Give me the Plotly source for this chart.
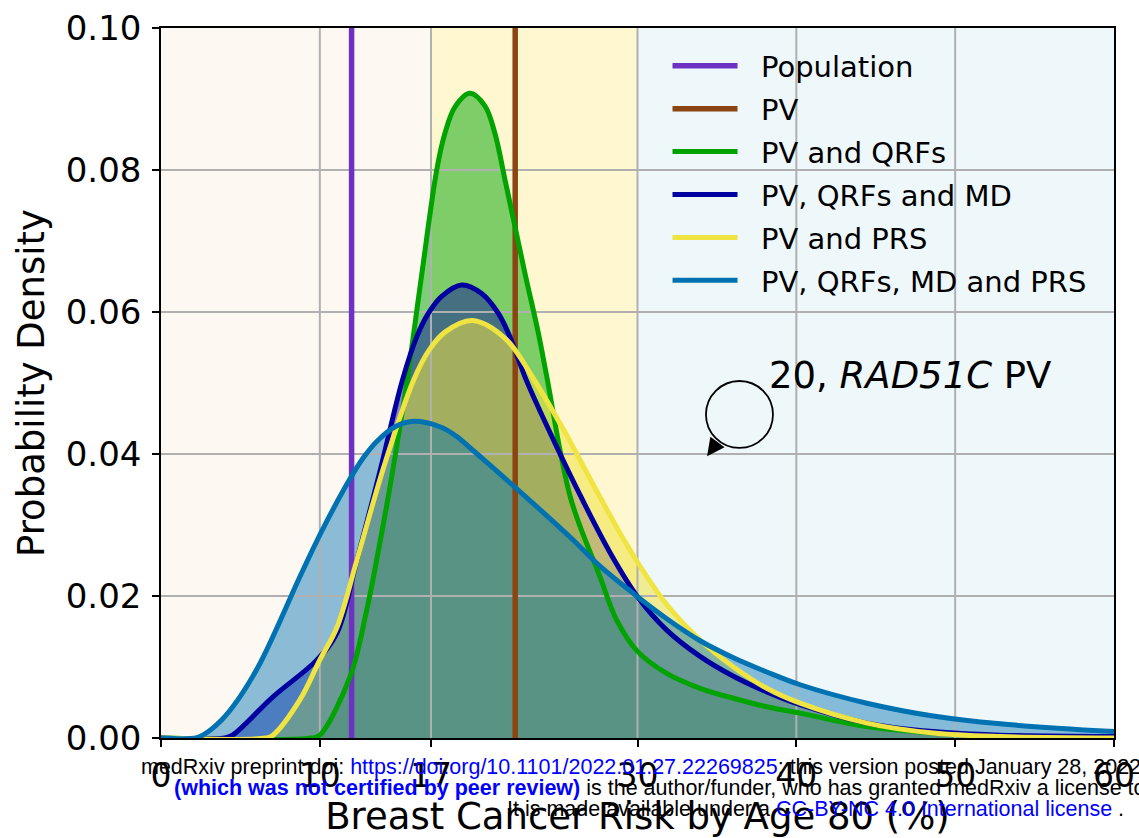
import plotly.graph_objects as go

# ---------------- data ----------------
pop_x = 12.0          # Population risk
pv_x = 22.3           # PV risk

green_x = [0, 9.5, 10.0, 11.9, 12.95, 13.58, 14.5, 15.47, 16.41, 17.36, 17.88, 18.51,
           19.45, 20.4, 21.03, 21.66, 22.29, 22.92, 23.76, 24.28, 25.8, 27.64, 28.69, 30, 31.84,
           33.94, 36.04, 38.14, 40.24, 44.44, 48.62, 52.83, 60]
green_y = [0, 0, 0.0004, 0.0086, 0.018, 0.0251, 0.0365, 0.0500, 0.0652, 0.0800, 0.0852, 0.0889,
           0.0908, 0.0890, 0.0851, 0.0786, 0.0720, 0.0654, 0.0570, 0.0510, 0.0337,
           0.0227, 0.0166, 0.0122, 0.0091, 0.0070, 0.0056, 0.0044, 0.0035, 0.0016, 0.0007, 0.0003, 0]

navy_x = [0, 4.0, 4.5, 7.05, 9.82, 11.08, 12.34, 13.8, 15.2, 16.1, 16.83, 17.67, 18.93, 20.19, 21.24,
          21.97, 23.0, 24.6, 26.5, 28.3, 30, 31.84, 33.94, 36.04, 38.14, 40.24, 44.44, 48.62,
          52.83, 60]
navy_y = [0, 0, 0.0004, 0.0058, 0.011, 0.0148, 0.0251, 0.0377, 0.0504, 0.0565, 0.0598, 0.0622,
          0.0638, 0.0626, 0.0598, 0.0565, 0.0504, 0.0425, 0.0337, 0.026, 0.0199, 0.0152, 0.0115,
          0.0087, 0.0065, 0.0047, 0.0021, 0.0009, 0.0004, 0.0002]

yellow_x = [0, 6.6, 7.05, 8.75, 10.0, 11.08, 12.34, 14.0, 15.9, 16.9, 17.9, 19.6, 21.66, 23.4, 25.5,
            27.5, 29.6, 31.84, 33.94, 36.04, 38.14, 40.24, 44.44, 48.62, 52.83, 60]
yellow_y = [0, 0, 0.0004, 0.0054, 0.011, 0.0156, 0.0251, 0.0380, 0.0504, 0.0547, 0.0572, 0.0588,
            0.0563, 0.0508, 0.0428, 0.0345, 0.0262, 0.0188, 0.0138, 0.0100, 0.0070, 0.0049,
            0.0021, 0.0007, 0.0002, 0]

blue_x = [0, 2.2, 2.64, 3.8, 4.97, 6.23, 7.5, 8.7, 10.2, 11.9, 12.75, 13.6, 14.8, 15.9, 17.6, 18.6,
          19.6, 21.8, 23.9, 25.9, 27.64, 30, 31.84, 33.94, 36.04, 38.14, 40.24, 44.44, 48.62,
          52.83, 60]
blue_y = [0, 0, 0.0004, 0.0025, 0.0058, 0.0105, 0.0165, 0.0225, 0.0295, 0.0365, 0.0395, 0.0418,
          0.0439, 0.0446, 0.0438, 0.0425, 0.0406, 0.0363, 0.0321, 0.0280, 0.0242, 0.0199, 0.0168,
          0.0137, 0.0113, 0.0093, 0.0075, 0.0049, 0.0031, 0.0020, 0.0009]

series_names = ["PV and QRFs", "PV, QRFs and MD", "PV and PRS", "PV, QRFs, MD and PRS"]
series_colors = ["#00a300", "#0000a0", "#f0e442", "#0072b2"]
series_fills = ["rgba(0,163,0,0.5)", "rgba(0,0,160,0.45)", "rgba(240,228,66,0.55)", "rgba(0,114,178,0.45)"]
series_x = [green_x, navy_x, yellow_x, blue_x]
series_y = [green_y, navy_y, yellow_y, blue_y]

x_ticks = [0, 10, 17, 30, 40, 50, 60]
y_ticks = [0.0, 0.02, 0.04, 0.06, 0.08, 0.10]
x_range = [0, 60]
y_range = [0, 0.10]

bands = [(0, 17, "#fdf8f2"), (17, 30, "#fff7d0"), (30, 60, "#eef7fa")]

FONT = "DejaVu Sans"
NB = "\u00a0\u00a0"   # small gap between legend line and label
SMOOTH = 1.0
fig = go.Figure()

# fills (below everything else)
for name, xs, ys, fc in zip(series_names, series_x, series_y, series_fills):
    fig.add_trace(go.Scatter(x=xs, y=ys, mode="lines", fill="tozeroy", fillcolor=fc,
                             line=dict(width=0, shape="spline", smoothing=SMOOTH),
                             showlegend=False, hoverinfo="skip"))

# grid lines above fills, below lines
gx, gy = [], []
for v in x_ticks[1:-1]:
    gx += [v, v, None]
    gy += [y_range[0], y_range[1], None]
for v in y_ticks[1:-1]:
    gx += [x_range[0], x_range[1], None]
    gy += [v, v, None]
fig.add_trace(go.Scatter(x=gx, y=gy, mode="lines", line=dict(color="#b0b0b0", width=2),
                         showlegend=False, hoverinfo="skip"))

# vertical reference lines
fig.add_trace(go.Scatter(x=[pop_x, pop_x], y=y_range, mode="lines", name=NB + "Population",
                         line=dict(color="#6d31c3", width=5.5), legendgroup="a"))
fig.add_trace(go.Scatter(x=[pv_x, pv_x], y=y_range, mode="lines", name=NB + "PV",
                         line=dict(color="#8b4513", width=5.5), legendgroup="b"))

for i, (name, xs, ys, c) in enumerate(zip(series_names, series_x, series_y, series_colors)):
    fig.add_trace(go.Scatter(x=xs, y=ys, mode="lines", name=NB + name,
                             line=dict(color=c, width=5, shape="spline", smoothing=SMOOTH),
                             legendgroup="g%d" % i))

shapes = []
for a, b, col in bands:
    shapes.append(dict(type="rect", xref="x", yref="y", x0=a, x1=b, y0=y_range[0], y1=y_range[1],
                       fillcolor=col, line=dict(width=0), layer="below"))
# annotation circle
shapes.append(dict(type="circle", xref="x", yref="y", x0=34.31, x1=38.53, y0=0.04085, y1=0.05028,
                   line=dict(color="black", width=1.8), layer="above"))

annotations = [
    dict(x=38.15, y=0.0511, xref="x", yref="y", text="20, <i>RAD51C</i> PV", showarrow=False,
         xanchor="left", yanchor="middle", font=dict(family=FONT, size=37, color="black")),
    dict(x=34.38, y=0.0397, xref="x", yref="y", text="", showarrow=True, ax=11, ay=-15,
         arrowhead=2, arrowsize=2.2, arrowwidth=1.6, arrowcolor="black", standoff=0),
]

WM = "Liberation Sans"
annotations += [
    dict(x=-0.0230, y=-0.0408, xref="paper", yref="paper", xanchor="left", yanchor="middle",
         showarrow=False, font=dict(family=WM, size=21.5, color="black"),
         text="medRxiv preprint doi: <span style='color:#0000ff'>https://doi.org/10.1101/2022.01.27.22269825</span>; this version posted January 28, 2022."),
    dict(x=0.0115, y=-0.0704, xref="paper", yref="paper", xanchor="left", yanchor="middle",
         showarrow=False, font=dict(family=WM, size=21.5, color="black"),
         text="<b><span style='color:#0000ff'>(which was not certified by peer review)</span></b> is the author/funder, who has granted medRxiv a license to"),
    dict(x=0.3610, y=-0.1000, xref="paper", yref="paper", xanchor="left", yanchor="middle",
         showarrow=False, font=dict(family=WM, size=21.5, color="black"),
         text="It is made available under a <span style='color:#0000ff'>CC-BY-NC 4.0 International license</span> ."),
]

fig.update_layout(
    width=1139, height=838,
    margin=dict(l=161, r=25, t=28, b=100),
    paper_bgcolor="white", plot_bgcolor="rgba(0,0,0,0)",
    font=dict(family=FONT, color="black"),
    shapes=shapes, annotations=annotations,
    legend=dict(x=0.5315, y=0.9825, xanchor="left", yanchor="top", bgcolor="rgba(0,0,0,0)",
                font=dict(family=FONT, size=29, color="black"), tracegroupgap=2.2, itemwidth=65),
    xaxis=dict(range=x_range, tickvals=x_ticks, ticktext=[str(v) for v in x_ticks],
               showgrid=False, zeroline=False, showline=True, mirror=True, linecolor="black",
               linewidth=1.6, ticks="outside", ticklen=7, tickwidth=1.6, tickcolor="black",
               tickfont=dict(family=FONT, size=33), ticklabelstandoff=1, automargin=False,
               title=dict(text="Breast Cancer Risk by Age 80 (%)", font=dict(family=FONT, size=37),
                          standoff=4)),
    yaxis=dict(range=y_range, tickvals=y_ticks, ticktext=["%.2f" % v for v in y_ticks],
               showgrid=False, zeroline=False, showline=True, mirror=True, linecolor="black",
               linewidth=1.6, ticks="outside", ticklen=7, tickwidth=1.6, tickcolor="black",
               tickfont=dict(family=FONT, size=34), ticklabelstandoff=4, automargin=False,
               title=dict(text="Probability Density", font=dict(family=FONT, size=37), standoff=10)),
)

fig.write_html("out.html", config={"displayModeBar": False},
               post_script="document.body.style.margin='0';")
